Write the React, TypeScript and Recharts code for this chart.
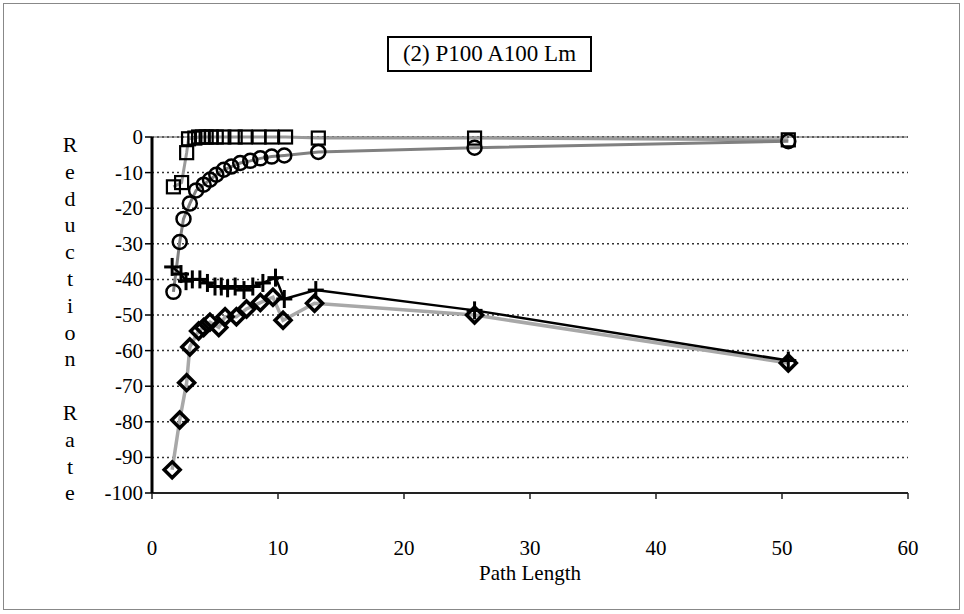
import React from 'react';
import { ScatterChart, Scatter, XAxis, YAxis, CartesianGrid, ReferenceLine } from 'recharts';

const TITLE = '(2) P100 A100 Lm';
const X_LABEL = 'Path Length';
const Y_LABEL = 'Reduction Rate';
const X_TICKS = [0, 10, 20, 30, 40, 50, 60];
const Y_TICKS = [0, -10, -20, -30, -40, -50, -60, -70, -80, -90, -100];

const squaresX = [1.7, 2.35, 2.75, 2.9, 3.4, 3.7, 4.0, 4.3, 4.7, 5.1, 5.7, 6.6, 7.4, 8.5, 9.5, 10.6, 13.2, 25.6, 50.5];
const squaresY = [-14, -12.8, -4.4, -0.5, -0.3, 0, 0, 0, 0, 0, 0, 0, 0, 0, 0, 0, -0.3, -0.3, -0.8];

const circlesX = [1.7, 2.2, 2.5, 3.0, 3.5, 4.1, 4.6, 5.1, 5.7, 6.3, 7.0, 7.8, 8.6, 9.5, 10.5, 13.2, 25.6, 50.5];
const circlesY = [-43.5, -29.5, -23, -18.7, -15, -13.4, -12, -10.6, -9.2, -8.3, -7.3, -6.7, -6, -5.5, -5.2, -4.2, -3, -1.2];

const plusX = [1.6, 2.3, 2.7, 3.2, 3.8, 4.4, 5.0, 5.5, 6.0, 6.6, 7.3, 8.0, 8.8, 9.8, 10.5, 13.0, 25.6, 50.5];
const plusY = [-36.5, -38.5, -40.5, -40, -40, -41, -42, -42, -42.5, -42, -43, -42, -41, -39.5, -45.5, -43, -48.7, -62.8];

const diamondsX = [1.6, 2.2, 2.75, 3.0, 3.7, 4.1, 4.6, 5.3, 5.8, 6.7, 7.5, 8.6, 9.6, 10.4, 12.9, 25.6, 50.5];
const diamondsY = [-93.5, -79.5, -69, -59, -54.5, -53.5, -52, -53.5, -50.5, -50.5, -48.3, -46.5, -45, -51.5, -46.7, -50, -63.5];

const zip = (xs: number[], ys: number[]) => xs.map((x, i) => ({ x, y: ys[i] }));
const squares = zip(squaresX, squaresY);
const circles = zip(circlesX, circlesY);
const pluses = zip(plusX, plusY);
const diamonds = zip(diamondsX, diamondsY);

const FONT = 'Liberation Serif, serif';

const SquareShape = (p: any) => (
  <rect x={p.cx - 6.5} y={p.cy - 6.5} width={13} height={13} fill="none" stroke="#000" strokeWidth={2.2} />
);
const CircleShape = (p: any) => (
  <circle cx={p.cx} cy={p.cy} r={7} fill="none" stroke="#000" strokeWidth={2.5} />
);
const PlusShape = (p: any) => (
  <g>
    <line x1={p.cx - 8} x2={p.cx + 8} y1={p.cy} y2={p.cy} stroke="#000" strokeWidth={3} />
    <line x1={p.cx} x2={p.cx} y1={p.cy - 9} y2={p.cy + 9} stroke="#000" strokeWidth={3} />
  </g>
);
const DiamondShape = (p: any) => (
  <polygon
    points={`${p.cx},${p.cy - 8} ${p.cx + 8},${p.cy} ${p.cx},${p.cy + 8} ${p.cx - 8},${p.cy}`}
    fill="none"
    stroke="#000"
    strokeWidth={3.5}
  />
);

const XTick = (p: any) => (
  <text x={p.x} y={p.y} dy={54} textAnchor="middle" fill="#000" style={{ fontFamily: FONT, fontSize: 21 }}>
    {p.payload.value}
  </text>
);

const YTick = (p: any) => (
  <text x={p.x} y={p.y} dy={7} textAnchor="end" fill="#000" style={{ fontFamily: FONT, fontSize: 21 }}>
    {p.payload.value}
  </text>
);

export default function App() {
  return (
    <div style={{ position: 'absolute', left: 0, top: 0, width: 964, height: 614, background: '#fff', fontFamily: FONT }}>
      <div style={{ position: 'absolute', left: 3, top: 3, width: 955, height: 605, border: '1px solid #888' }} />
      <ScatterChart
        width={964}
        height={614}
        margin={{ top: 137, right: 56, bottom: 61, left: 92 }}
        style={{ fontFamily: FONT }}
      >
        <CartesianGrid horizontal vertical={false} stroke="#333" strokeWidth={1.5} strokeDasharray="2 3" />
        <XAxis
          type="number"
          dataKey="x"
          domain={[0, 60]}
          ticks={X_TICKS}
          height={60}
          axisLine={{ stroke: '#222', strokeWidth: 2 }}
          tickLine={{ stroke: '#222', strokeWidth: 1.5 }}
          tickSize={6}
          tick={<XTick />}
        />
        <YAxis
          type="number"
          dataKey="y"
          domain={[-100, 0]}
          ticks={Y_TICKS}
          width={60}
          interval={0}
          axisLine={{ stroke: '#000', strokeWidth: 3 }}
          tickLine={{ stroke: '#000', strokeWidth: 1.5 }}
          tickSize={7}
          tick={<YTick />}
        />
        <ReferenceLine y={0} stroke="#555" strokeWidth={1.2} />
        <Scatter data={squares} shape={SquareShape} line={{ stroke: '#9a9a9a', strokeWidth: 3 }} lineType="joint" isAnimationActive={false} />
        <Scatter data={circles} shape={CircleShape} line={{ stroke: '#808080', strokeWidth: 3 }} lineType="joint" isAnimationActive={false} />
        <Scatter data={diamonds} shape={DiamondShape} line={{ stroke: '#a8a8a8', strokeWidth: 3.5 }} lineType="joint" isAnimationActive={false} />
        <Scatter data={pluses} shape={PlusShape} line={{ stroke: '#000', strokeWidth: 2.5 }} lineType="joint" isAnimationActive={false} />
      </ScatterChart>
      <div
        style={{
          position: 'absolute',
          left: 387,
          top: 36,
          width: 201,
          height: 32,
          border: '2px solid #000',
          fontSize: 23,
          lineHeight: '32px',
          textAlign: 'center',
          fontFamily: FONT,
          color: '#000',
        }}
      >
        {TITLE}
      </div>
      {Y_LABEL.split('').map((ch, i) => (
        <div
          key={i}
          style={{
            position: 'absolute',
            left: 58,
            top: 145 + i * 26.8 - 13,
            width: 24,
            height: 26,
            lineHeight: '26px',
            textAlign: 'center',
            fontSize: 22,
            fontFamily: FONT,
            color: '#000',
          }}
        >
          {ch}
        </div>
      ))}
      <div
        style={{
          position: 'absolute',
          left: 380,
          top: 561,
          width: 300,
          textAlign: 'center',
          fontSize: 21,
          lineHeight: '24px',
          fontFamily: FONT,
          color: '#000',
        }}
      >
        {X_LABEL}
      </div>
    </div>
  );
}
